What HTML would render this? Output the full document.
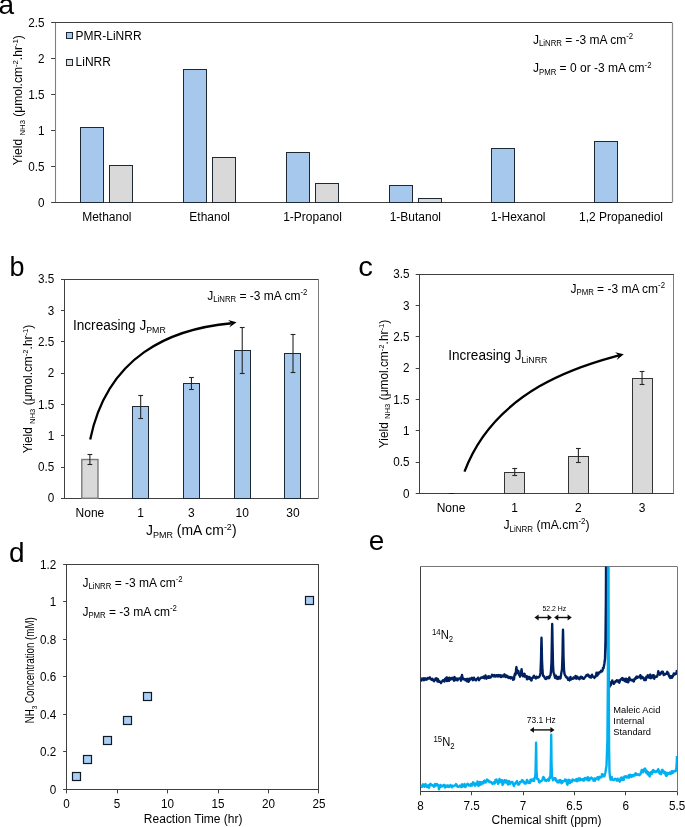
<!DOCTYPE html>
<html><head><meta charset="utf-8"><style>
html,body{margin:0;padding:0;background:#fff;overflow:hidden;}
svg{display:block;}
text{font-family:"Liberation Sans", sans-serif;}
svg{will-change:transform;}
</style></head><body>
<svg width="685" height="827" viewBox="0 0 685 827">
<rect width="685" height="827" fill="#fff"/>
<text transform="translate(-1.50,14.30) scale(1,1.0)" font-size="28" text-anchor="start" fill="#000">a</text>
<line x1="55.50" y1="22.50" x2="55.50" y2="202.40" stroke="#7f7f7f" stroke-width="1.1"/>
<line x1="672.50" y1="22.50" x2="672.50" y2="202.40" stroke="#8a8a8a" stroke-width="1.2"/>
<line x1="51.10" y1="22.50" x2="672.10" y2="22.50" stroke="#404040" stroke-width="1"/>
<line x1="51.10" y1="202.50" x2="672.10" y2="202.50" stroke="#404040" stroke-width="1"/>
<line x1="51.10" y1="166.50" x2="55.10" y2="166.50" stroke="#404040" stroke-width="1"/>
<line x1="51.10" y1="130.50" x2="55.10" y2="130.50" stroke="#404040" stroke-width="1"/>
<line x1="51.10" y1="94.50" x2="55.10" y2="94.50" stroke="#404040" stroke-width="1"/>
<line x1="51.10" y1="58.50" x2="55.10" y2="58.50" stroke="#404040" stroke-width="1"/>
<text transform="translate(44.60,206.50) scale(1,1.08)" font-size="11.7" text-anchor="end" fill="#000">0</text>
<text transform="translate(44.60,170.52) scale(1,1.08)" font-size="11.7" text-anchor="end" fill="#000">0.5</text>
<text transform="translate(44.60,134.54) scale(1,1.08)" font-size="11.7" text-anchor="end" fill="#000">1</text>
<text transform="translate(44.60,98.56) scale(1,1.08)" font-size="11.7" text-anchor="end" fill="#000">1.5</text>
<text transform="translate(44.60,62.58) scale(1,1.08)" font-size="11.7" text-anchor="end" fill="#000">2</text>
<text transform="translate(44.60,26.60) scale(1,1.08)" font-size="11.7" text-anchor="end" fill="#000">2.5</text>
<rect x="80.50" y="127.50" width="23.00" height="75.00" fill="#a6c8ec" stroke="#1e2832" stroke-width="1"/>
<rect x="109.50" y="165.50" width="23.00" height="37.00" fill="#d9d9d9" stroke="#1e2832" stroke-width="1"/>
<text transform="translate(106.82,220.90) scale(1,1.06)" font-size="12.0" text-anchor="middle" fill="#000">Methanol</text>
<rect x="183.50" y="69.50" width="23.00" height="133.00" fill="#a6c8ec" stroke="#1e2832" stroke-width="1"/>
<rect x="212.50" y="157.50" width="23.00" height="45.00" fill="#d9d9d9" stroke="#1e2832" stroke-width="1"/>
<text transform="translate(209.65,220.90) scale(1,1.06)" font-size="12.0" text-anchor="middle" fill="#000">Ethanol</text>
<rect x="286.50" y="152.50" width="23.00" height="50.00" fill="#a6c8ec" stroke="#1e2832" stroke-width="1"/>
<rect x="315.50" y="183.50" width="23.00" height="19.00" fill="#d9d9d9" stroke="#1e2832" stroke-width="1"/>
<text transform="translate(312.48,220.90) scale(1,1.06)" font-size="12.0" text-anchor="middle" fill="#000">1-Propanol</text>
<rect x="389.50" y="185.50" width="23.00" height="17.00" fill="#a6c8ec" stroke="#1e2832" stroke-width="1"/>
<rect x="418.50" y="198.50" width="23.00" height="4.00" fill="#d9d9d9" stroke="#1e2832" stroke-width="1"/>
<text transform="translate(415.32,220.90) scale(1,1.06)" font-size="12.0" text-anchor="middle" fill="#000">1-Butanol</text>
<rect x="491.50" y="148.50" width="23.00" height="54.00" fill="#a6c8ec" stroke="#1e2832" stroke-width="1"/>
<text transform="translate(518.15,220.90) scale(1,1.06)" font-size="12.0" text-anchor="middle" fill="#000">1-Hexanol</text>
<rect x="594.50" y="141.50" width="23.00" height="61.00" fill="#a6c8ec" stroke="#1e2832" stroke-width="1"/>
<text transform="translate(620.98,220.90) scale(1,1.06)" font-size="12.0" text-anchor="middle" fill="#000">1,2 Propanediol</text>
<rect x="66.50" y="32.50" width="6.00" height="6.00" fill="#a6c8ec" stroke="#1e2832" stroke-width="1"/>
<rect x="66.50" y="59.50" width="6.00" height="6.00" fill="#dcdcdc" stroke="#1e2832" stroke-width="1"/>
<text transform="translate(75.60,39.60) scale(1,1.06)" font-size="12.0" text-anchor="start" fill="#000">PMR-LiNRR</text>
<text transform="translate(75.60,66.40) scale(1,1.06)" font-size="12.0" text-anchor="start" fill="#000">LiNRR</text>
<text transform="translate(533.00,43.70) scale(1,1.06)" font-size="12.0" text-anchor="start" fill="#000">J<tspan font-size="7.8" dy="2.4">LiNRR</tspan><tspan dy="-2.4"> = -3 mA cm</tspan><tspan font-size="7.8" dy="-4.32">-2</tspan></text>
<text transform="translate(533.00,72.40) scale(1,1.06)" font-size="12.0" text-anchor="start" fill="#000">J<tspan font-size="7.8" dy="2.4">PMR</tspan><tspan dy="-2.4"> = 0 or -3 mA cm</tspan><tspan font-size="7.8" dy="-4.32">-2</tspan></text>
<text transform="translate(22.20,100.20) rotate(-90) scale(1,1.05)" font-size="11.8" text-anchor="middle" textLength="130" lengthAdjust="spacingAndGlyphs">Yield <tspan font-size="7.6" dy="2.36">NH3</tspan><tspan dy="-2.36"> (μmol.cm</tspan><tspan font-size="7.6" dy="-4.01">-2</tspan><tspan dy="4.01">.hr</tspan><tspan font-size="7.6" dy="-4.01">-1</tspan><tspan dy="4.01">)</tspan></text>
<text transform="translate(9.50,276.30) scale(1,1.0)" font-size="27" text-anchor="start" fill="#000">b</text>
<line x1="64.50" y1="279.30" x2="64.50" y2="498.30" stroke="#404040" stroke-width="1"/>
<line x1="318.50" y1="279.30" x2="318.50" y2="498.30" stroke="#7a7a7a" stroke-width="1"/>
<line x1="61.00" y1="279.50" x2="318.40" y2="279.50" stroke="#404040" stroke-width="1"/>
<line x1="61.00" y1="498.50" x2="318.40" y2="498.50" stroke="#404040" stroke-width="1"/>
<line x1="61.00" y1="467.50" x2="64.50" y2="467.50" stroke="#404040" stroke-width="1"/>
<line x1="61.00" y1="435.50" x2="64.50" y2="435.50" stroke="#404040" stroke-width="1"/>
<line x1="61.00" y1="404.50" x2="64.50" y2="404.50" stroke="#404040" stroke-width="1"/>
<line x1="61.00" y1="373.50" x2="64.50" y2="373.50" stroke="#404040" stroke-width="1"/>
<line x1="61.00" y1="341.50" x2="64.50" y2="341.50" stroke="#404040" stroke-width="1"/>
<line x1="61.00" y1="310.50" x2="64.50" y2="310.50" stroke="#404040" stroke-width="1"/>
<text transform="translate(54.30,502.40) scale(1,1.08)" font-size="11.7" text-anchor="end" fill="#000">0</text>
<text transform="translate(54.30,471.11) scale(1,1.08)" font-size="11.7" text-anchor="end" fill="#000">0.5</text>
<text transform="translate(54.30,439.83) scale(1,1.08)" font-size="11.7" text-anchor="end" fill="#000">1</text>
<text transform="translate(54.30,408.54) scale(1,1.08)" font-size="11.7" text-anchor="end" fill="#000">1.5</text>
<text transform="translate(54.30,377.26) scale(1,1.08)" font-size="11.7" text-anchor="end" fill="#000">2</text>
<text transform="translate(54.30,345.97) scale(1,1.08)" font-size="11.7" text-anchor="end" fill="#000">2.5</text>
<text transform="translate(54.30,314.69) scale(1,1.08)" font-size="11.7" text-anchor="end" fill="#000">3</text>
<text transform="translate(54.30,283.40) scale(1,1.08)" font-size="11.7" text-anchor="end" fill="#000">3.5</text>
<rect x="81.79" y="459.51" width="16.20" height="38.79" fill="#d9d9d9" stroke="#7a7a7a" stroke-width="1.4"/>
<line x1="89.89" y1="454.12" x2="89.89" y2="464.32" stroke="#262626" stroke-width="1.1"/>
<line x1="87.49" y1="454.50" x2="92.29" y2="454.50" stroke="#262626" stroke-width="1.1"/>
<line x1="87.49" y1="464.50" x2="92.29" y2="464.50" stroke="#262626" stroke-width="1.1"/>
<text transform="translate(89.89,516.60) scale(1,1.06)" font-size="12.0" text-anchor="middle" fill="#000">None</text>
<rect x="132.50" y="406.50" width="16.00" height="92.00" fill="#a6c8ec" stroke="#1e2832" stroke-width="1"/>
<line x1="140.67" y1="395.06" x2="140.67" y2="418.33" stroke="#262626" stroke-width="1.1"/>
<line x1="138.27" y1="395.50" x2="143.07" y2="395.50" stroke="#262626" stroke-width="1.1"/>
<line x1="138.27" y1="418.50" x2="143.07" y2="418.50" stroke="#262626" stroke-width="1.1"/>
<text transform="translate(140.67,516.60) scale(1,1.06)" font-size="12.0" text-anchor="middle" fill="#000">1</text>
<rect x="183.50" y="383.50" width="16.00" height="115.00" fill="#a6c8ec" stroke="#1e2832" stroke-width="1"/>
<line x1="191.45" y1="377.16" x2="191.45" y2="389.43" stroke="#262626" stroke-width="1.1"/>
<line x1="189.05" y1="377.50" x2="193.85" y2="377.50" stroke="#262626" stroke-width="1.1"/>
<line x1="189.05" y1="389.50" x2="193.85" y2="389.50" stroke="#262626" stroke-width="1.1"/>
<text transform="translate(191.45,516.60) scale(1,1.06)" font-size="12.0" text-anchor="middle" fill="#000">3</text>
<rect x="234.50" y="350.50" width="16.00" height="148.00" fill="#a6c8ec" stroke="#1e2832" stroke-width="1"/>
<line x1="242.23" y1="327.10" x2="242.23" y2="373.16" stroke="#262626" stroke-width="1.1"/>
<line x1="239.83" y1="327.50" x2="244.63" y2="327.50" stroke="#262626" stroke-width="1.1"/>
<line x1="239.83" y1="373.50" x2="244.63" y2="373.50" stroke="#262626" stroke-width="1.1"/>
<text transform="translate(242.23,516.60) scale(1,1.06)" font-size="12.0" text-anchor="middle" fill="#000">10</text>
<rect x="284.50" y="353.50" width="16.00" height="145.00" fill="#a6c8ec" stroke="#1e2832" stroke-width="1"/>
<line x1="293.01" y1="334.99" x2="293.01" y2="372.16" stroke="#262626" stroke-width="1.1"/>
<line x1="290.61" y1="334.50" x2="295.41" y2="334.50" stroke="#262626" stroke-width="1.1"/>
<line x1="290.61" y1="372.50" x2="295.41" y2="372.50" stroke="#262626" stroke-width="1.1"/>
<text transform="translate(293.01,516.60) scale(1,1.06)" font-size="12.0" text-anchor="middle" fill="#000">30</text>
<text transform="translate(207.20,299.70) scale(1,1.06)" font-size="12.0" text-anchor="start" fill="#000">J<tspan font-size="7.8" dy="2.4">LiNRR</tspan><tspan dy="-2.4"> = -3 mA cm</tspan><tspan font-size="7.8" dy="-4.32">-2</tspan></text>
<text transform="translate(73.00,329.90) scale(1,1.04)" font-size="13.6" text-anchor="start" fill="#000">Increasing J<tspan font-size="8.8" dy="3.2">PMR</tspan></text>
<text transform="translate(146.00,534.70) scale(1,1.04)" font-size="13.9" text-anchor="start" fill="#000">J<tspan font-size="9.0" dy="3.2">PMR</tspan><tspan dy="-3.2"> (mA cm</tspan><tspan font-size="9.0" dy="-5">-2</tspan><tspan dy="5">)</tspan></text>
<text transform="translate(32.40,389.00) rotate(-90) scale(1,1.05)" font-size="11.8" text-anchor="middle" textLength="128.5" lengthAdjust="spacingAndGlyphs">Yield <tspan font-size="7.6" dy="2.36">NH3</tspan><tspan dy="-2.36"> (μmol.cm</tspan><tspan font-size="7.6" dy="-4.01">-2</tspan><tspan dy="4.01">.hr</tspan><tspan font-size="7.6" dy="-4.01">-1</tspan><tspan dy="4.01">)</tspan></text>
<path d="M236.60,322.30 L228.10,320.00 L231.67,323.23 L229.20,327.60 Z" fill="#000"/>
<path d="M90.2,439.5 C107.3,355.9 170,328.8 231.67,323.23" fill="none" stroke="#000" stroke-width="2.3"/>
<text transform="translate(358.2,275.8) scale(1.09,1.02)" font-size="27">c</text>
<line x1="419.50" y1="274.30" x2="419.50" y2="493.40" stroke="#404040" stroke-width="1"/>
<line x1="673.50" y1="274.30" x2="673.50" y2="493.40" stroke="#7a7a7a" stroke-width="1"/>
<line x1="415.70" y1="274.50" x2="673.90" y2="274.50" stroke="#404040" stroke-width="1"/>
<line x1="415.70" y1="493.50" x2="673.90" y2="493.50" stroke="#404040" stroke-width="1"/>
<line x1="415.70" y1="462.50" x2="419.20" y2="462.50" stroke="#404040" stroke-width="1"/>
<line x1="415.70" y1="430.50" x2="419.20" y2="430.50" stroke="#404040" stroke-width="1"/>
<line x1="415.70" y1="399.50" x2="419.20" y2="399.50" stroke="#404040" stroke-width="1"/>
<line x1="415.70" y1="368.50" x2="419.20" y2="368.50" stroke="#404040" stroke-width="1"/>
<line x1="415.70" y1="336.50" x2="419.20" y2="336.50" stroke="#404040" stroke-width="1"/>
<line x1="415.70" y1="305.50" x2="419.20" y2="305.50" stroke="#404040" stroke-width="1"/>
<text transform="translate(409.40,497.50) scale(1,1.08)" font-size="11.7" text-anchor="end" fill="#000">0</text>
<text transform="translate(409.40,466.20) scale(1,1.08)" font-size="11.7" text-anchor="end" fill="#000">0.5</text>
<text transform="translate(409.40,434.90) scale(1,1.08)" font-size="11.7" text-anchor="end" fill="#000">1</text>
<text transform="translate(409.40,403.60) scale(1,1.08)" font-size="11.7" text-anchor="end" fill="#000">1.5</text>
<text transform="translate(409.40,372.30) scale(1,1.08)" font-size="11.7" text-anchor="end" fill="#000">2</text>
<text transform="translate(409.40,341.00) scale(1,1.08)" font-size="11.7" text-anchor="end" fill="#000">2.5</text>
<text transform="translate(409.40,309.70) scale(1,1.08)" font-size="11.7" text-anchor="end" fill="#000">3</text>
<text transform="translate(409.40,278.40) scale(1,1.08)" font-size="11.7" text-anchor="end" fill="#000">3.5</text>
<text transform="translate(451.04,511.90) scale(1,1.06)" font-size="12.0" text-anchor="middle" fill="#000">None</text>
<rect x="504.50" y="472.50" width="20.00" height="21.00" fill="#d9d9d9" stroke="#333" stroke-width="1"/>
<line x1="514.71" y1="468.36" x2="514.71" y2="475.25" stroke="#262626" stroke-width="1.1"/>
<line x1="512.31" y1="468.50" x2="517.11" y2="468.50" stroke="#262626" stroke-width="1.1"/>
<line x1="512.31" y1="475.50" x2="517.11" y2="475.50" stroke="#262626" stroke-width="1.1"/>
<text transform="translate(514.71,511.90) scale(1,1.06)" font-size="12.0" text-anchor="middle" fill="#000">1</text>
<rect x="568.50" y="456.50" width="20.00" height="37.00" fill="#d9d9d9" stroke="#333" stroke-width="1"/>
<line x1="578.39" y1="448.95" x2="578.39" y2="462.73" stroke="#262626" stroke-width="1.1"/>
<line x1="575.99" y1="448.50" x2="580.79" y2="448.50" stroke="#262626" stroke-width="1.1"/>
<line x1="575.99" y1="462.50" x2="580.79" y2="462.50" stroke="#262626" stroke-width="1.1"/>
<text transform="translate(578.39,511.90) scale(1,1.06)" font-size="12.0" text-anchor="middle" fill="#000">2</text>
<rect x="632.50" y="378.50" width="20.00" height="115.00" fill="#d9d9d9" stroke="#333" stroke-width="1"/>
<line x1="642.06" y1="371.96" x2="642.06" y2="384.48" stroke="#262626" stroke-width="1.1"/>
<line x1="639.66" y1="371.50" x2="644.46" y2="371.50" stroke="#262626" stroke-width="1.1"/>
<line x1="639.66" y1="384.50" x2="644.46" y2="384.50" stroke="#262626" stroke-width="1.1"/>
<text transform="translate(642.06,511.90) scale(1,1.06)" font-size="12.0" text-anchor="middle" fill="#000">3</text>
<line x1="448.80" y1="493.50" x2="453.90" y2="493.50" stroke="#1a1a1a" stroke-width="1"/>
<text transform="translate(570.50,292.60) scale(1,1.06)" font-size="12.0" text-anchor="start" fill="#000">J<tspan font-size="7.8" dy="2.4">PMR</tspan><tspan dy="-2.4"> = -3 mA cm</tspan><tspan font-size="7.8" dy="-4.32">-2</tspan></text>
<text transform="translate(448.20,359.90) scale(1,1.04)" font-size="13.6" text-anchor="start" fill="#000">Increasing J<tspan font-size="8.8" dy="3.2">LiNRR</tspan></text>
<text transform="translate(503.40,528.60) scale(1,1.06)" font-size="12.2" text-anchor="start" fill="#000">J<tspan font-size="8.0" dy="3.0">LiNRR</tspan><tspan dy="-3"> (mA.cm</tspan><tspan font-size="8.0" dy="-4.5">-2</tspan><tspan dy="4.5">)</tspan></text>
<text transform="translate(387.80,384.00) rotate(-90) scale(1,1.05)" font-size="11.8" text-anchor="middle" textLength="128.5" lengthAdjust="spacingAndGlyphs">Yield <tspan font-size="7.6" dy="2.36">NH3</tspan><tspan dy="-2.36"> (μmol.cm</tspan><tspan font-size="7.6" dy="-4.01">-2</tspan><tspan dy="4.01">.hr</tspan><tspan font-size="7.6" dy="-4.01">-1</tspan><tspan dy="4.01">)</tspan></text>
<path d="M623.80,354.30 L615.10,352.20 L618.90,355.38 L616.70,359.90 Z" fill="#000"/>
<path d="M464.5,471.6 C496.96,384.8 592.9,362.7 618.90,355.38" fill="none" stroke="#000" stroke-width="2.3"/>
<text transform="translate(9.00,561.80) scale(1,1.0)" font-size="28" text-anchor="start" fill="#000">d</text>
<line x1="66.50" y1="564.40" x2="66.50" y2="789.40" stroke="#404040" stroke-width="1"/>
<line x1="318.50" y1="564.40" x2="318.50" y2="789.40" stroke="#404040" stroke-width="1"/>
<line x1="63.10" y1="564.50" x2="319.00" y2="564.50" stroke="#404040" stroke-width="1"/>
<line x1="63.10" y1="789.50" x2="319.00" y2="789.50" stroke="#404040" stroke-width="1"/>
<line x1="63.10" y1="751.50" x2="66.60" y2="751.50" stroke="#404040" stroke-width="1"/>
<line x1="63.10" y1="714.50" x2="66.60" y2="714.50" stroke="#404040" stroke-width="1"/>
<line x1="63.10" y1="676.50" x2="66.60" y2="676.50" stroke="#404040" stroke-width="1"/>
<line x1="63.10" y1="639.50" x2="66.60" y2="639.50" stroke="#404040" stroke-width="1"/>
<line x1="63.10" y1="601.50" x2="66.60" y2="601.50" stroke="#404040" stroke-width="1"/>
<line x1="66.50" y1="789.40" x2="66.50" y2="793.40" stroke="#404040" stroke-width="1"/>
<line x1="117.50" y1="789.40" x2="117.50" y2="793.40" stroke="#404040" stroke-width="1"/>
<line x1="167.50" y1="789.40" x2="167.50" y2="793.40" stroke="#404040" stroke-width="1"/>
<line x1="218.50" y1="789.40" x2="218.50" y2="793.40" stroke="#404040" stroke-width="1"/>
<line x1="268.50" y1="789.40" x2="268.50" y2="793.40" stroke="#404040" stroke-width="1"/>
<line x1="318.50" y1="789.40" x2="318.50" y2="793.40" stroke="#404040" stroke-width="1"/>
<text transform="translate(56.20,793.50) scale(1,1.08)" font-size="11.7" text-anchor="end" fill="#000">0</text>
<text transform="translate(56.20,756.00) scale(1,1.08)" font-size="11.7" text-anchor="end" fill="#000">0.2</text>
<text transform="translate(56.20,718.50) scale(1,1.08)" font-size="11.7" text-anchor="end" fill="#000">0.4</text>
<text transform="translate(56.20,681.00) scale(1,1.08)" font-size="11.7" text-anchor="end" fill="#000">0.6</text>
<text transform="translate(56.20,643.50) scale(1,1.08)" font-size="11.7" text-anchor="end" fill="#000">0.8</text>
<text transform="translate(56.20,606.00) scale(1,1.08)" font-size="11.7" text-anchor="end" fill="#000">1</text>
<text transform="translate(56.20,568.50) scale(1,1.08)" font-size="11.7" text-anchor="end" fill="#000">1.2</text>
<text transform="translate(66.60,807.80) scale(1,1.08)" font-size="11.7" text-anchor="middle" fill="#000">0</text>
<text transform="translate(117.08,807.80) scale(1,1.08)" font-size="11.7" text-anchor="middle" fill="#000">5</text>
<text transform="translate(167.56,807.80) scale(1,1.08)" font-size="11.7" text-anchor="middle" fill="#000">10</text>
<text transform="translate(218.04,807.80) scale(1,1.08)" font-size="11.7" text-anchor="middle" fill="#000">15</text>
<text transform="translate(268.52,807.80) scale(1,1.08)" font-size="11.7" text-anchor="middle" fill="#000">20</text>
<text transform="translate(319.00,807.80) scale(1,1.08)" font-size="11.7" text-anchor="middle" fill="#000">25</text>
<rect x="72.50" y="772.50" width="8.00" height="8.00" fill="#a9cff5" stroke="#111a24" stroke-width="1.2"/>
<rect x="83.50" y="755.50" width="8.00" height="8.00" fill="#a9cff5" stroke="#111a24" stroke-width="1.2"/>
<rect x="103.50" y="736.50" width="8.00" height="8.00" fill="#a9cff5" stroke="#111a24" stroke-width="1.2"/>
<rect x="123.50" y="716.50" width="8.00" height="8.00" fill="#a9cff5" stroke="#111a24" stroke-width="1.2"/>
<rect x="143.50" y="692.50" width="8.00" height="8.00" fill="#a9cff5" stroke="#111a24" stroke-width="1.2"/>
<rect x="305.50" y="596.50" width="8.00" height="8.00" fill="#a9cff5" stroke="#111a24" stroke-width="1.2"/>
<text transform="translate(82.40,586.80) scale(1,1.06)" font-size="12.0" text-anchor="start" fill="#000">J<tspan font-size="7.8" dy="2.4">LiNRR</tspan><tspan dy="-2.4"> = -3 mA cm</tspan><tspan font-size="7.8" dy="-4.32">-2</tspan></text>
<text transform="translate(82.40,615.60) scale(1,1.06)" font-size="12.0" text-anchor="start" fill="#000">J<tspan font-size="7.8" dy="2.4">PMR</tspan><tspan dy="-2.4"> = -3 mA cm</tspan><tspan font-size="7.8" dy="-4.32">-2</tspan></text>
<text transform="translate(193.20,823.40) scale(1,1.06)" font-size="12.0" text-anchor="middle" fill="#000">Reaction Time (hr)</text>
<text transform="translate(34.30,670.30) rotate(-90) scale(1,1.13)" font-size="10.6" text-anchor="middle" textLength="106" lengthAdjust="spacingAndGlyphs">NH<tspan font-size="7" dy="2.5">3</tspan><tspan dy="-2.5"> Concentration (mM)</tspan></text>
<text transform="translate(368.80,550.00) scale(1,1.01)" font-size="28" text-anchor="start" fill="#000">e</text>
<line x1="420.50" y1="566.50" x2="420.50" y2="791.30" stroke="#404040" stroke-width="1"/>
<line x1="420.40" y1="566.50" x2="677.10" y2="566.50" stroke="#777" stroke-width="1"/>
<line x1="420.40" y1="791.50" x2="677.10" y2="791.50" stroke="#404040" stroke-width="1"/>
<line x1="420.50" y1="791.30" x2="420.50" y2="795.30" stroke="#404040" stroke-width="1"/>
<line x1="471.50" y1="791.30" x2="471.50" y2="795.30" stroke="#404040" stroke-width="1"/>
<line x1="523.50" y1="791.30" x2="523.50" y2="795.30" stroke="#404040" stroke-width="1"/>
<line x1="574.50" y1="791.30" x2="574.50" y2="795.30" stroke="#404040" stroke-width="1"/>
<line x1="625.50" y1="791.30" x2="625.50" y2="795.30" stroke="#404040" stroke-width="1"/>
<line x1="677.50" y1="791.30" x2="677.50" y2="795.30" stroke="#404040" stroke-width="1"/>
<text transform="translate(420.40,809.90) scale(1,1.08)" font-size="11.7" text-anchor="middle" fill="#000">8</text>
<text transform="translate(471.74,809.90) scale(1,1.08)" font-size="11.7" text-anchor="middle" fill="#000">7.5</text>
<text transform="translate(523.08,809.90) scale(1,1.08)" font-size="11.7" text-anchor="middle" fill="#000">7</text>
<text transform="translate(574.42,809.90) scale(1,1.08)" font-size="11.7" text-anchor="middle" fill="#000">6.5</text>
<text transform="translate(625.76,809.90) scale(1,1.08)" font-size="11.7" text-anchor="middle" fill="#000">6</text>
<text transform="translate(677.10,809.90) scale(1,1.08)" font-size="11.7" text-anchor="middle" fill="#000">5.5</text>
<text transform="translate(546.50,823.50) scale(1,1.06)" font-size="12.0" text-anchor="middle" fill="#000">Chemical shift (ppm)</text>
<clipPath id="clipE"><rect x="420.4" y="566.5" width="256.70000000000005" height="230.79999999999995"/></clipPath>
<path d="M421.00,679.57 L421.50,680.58 L422.00,678.55 L422.50,679.76 L423.00,678.73 L423.50,678.29 L424.00,680.20 L424.50,678.89 L425.00,678.17 L425.50,678.95 L426.00,679.71 L426.50,678.89 L427.00,679.38 L427.50,678.08 L428.00,678.42 L428.50,678.57 L429.00,677.83 L429.50,677.55 L430.00,677.46 L430.50,678.88 L431.00,679.44 L431.50,679.52 L432.00,680.00 L432.50,678.79 L433.00,679.76 L433.50,680.44 L434.00,681.22 L434.50,679.92 L435.00,680.04 L435.50,678.51 L436.00,679.64 L436.50,678.34 L437.00,678.80 L437.50,681.54 L438.00,679.09 L438.50,681.45 L439.00,681.74 L439.50,681.25 L440.00,681.94 L440.50,682.28 L441.00,682.97 L441.50,681.95 L442.00,681.34 L442.50,680.90 L443.00,680.22 L443.50,680.81 L444.00,680.08 L444.50,681.57 L445.00,678.90 L445.50,678.73 L446.00,678.66 L446.50,677.45 L447.00,681.03 L447.50,677.69 L448.00,678.75 L448.50,678.75 L449.00,680.87 L449.50,677.76 L450.00,679.84 L450.50,678.57 L451.00,678.69 L451.50,678.13 L452.00,679.21 L452.50,677.77 L453.00,678.41 L453.50,679.04 L454.00,680.72 L454.50,676.95 L455.00,679.78 L455.50,680.05 L456.00,678.68 L456.50,679.07 L457.00,678.41 L457.50,680.34 L458.00,679.47 L458.50,678.78 L459.00,678.56 L459.50,678.52 L460.00,678.54 L460.50,677.88 L461.00,680.67 L461.50,677.54 L462.00,674.92 L462.50,677.68 L463.00,678.51 L463.50,679.32 L464.00,679.01 L464.50,679.01 L465.00,679.52 L465.50,680.35 L466.00,679.20 L466.50,678.96 L467.00,681.25 L467.50,680.55 L468.00,678.85 L468.50,681.70 L469.00,681.03 L469.50,679.48 L470.00,678.46 L470.50,679.57 L471.00,678.72 L471.50,678.20 L472.00,677.76 L472.50,678.39 L473.00,680.16 L473.50,679.10 L474.00,677.72 L474.50,679.40 L475.00,679.26 L475.50,679.96 L476.00,680.49 L476.50,679.23 L477.00,678.84 L477.50,678.78 L478.00,677.63 L478.50,679.07 L479.00,680.19 L479.50,679.28 L480.00,678.57 L480.50,678.30 L481.00,677.66 L481.50,677.42 L482.00,677.72 L482.50,677.34 L483.00,677.60 L483.50,676.50 L484.00,678.08 L484.50,678.22 L485.00,677.02 L485.50,675.39 L486.00,677.11 L486.50,678.65 L487.00,677.17 L487.50,676.88 L488.00,676.61 L488.50,677.67 L489.00,676.31 L489.50,677.73 L490.00,676.76 L490.50,677.61 L491.00,676.87 L491.50,676.29 L492.00,674.76 L492.50,675.00 L493.00,675.41 L493.50,676.37 L494.00,676.14 L494.50,675.03 L495.00,675.72 L495.50,676.60 L496.00,675.75 L496.50,675.24 L497.00,675.16 L497.50,676.39 L498.00,676.52 L498.50,675.11 L499.00,676.04 L499.50,675.49 L500.00,675.08 L500.50,676.95 L501.00,677.09 L501.50,675.57 L502.00,675.93 L502.50,676.46 L503.00,675.46 L503.50,675.69 L504.00,676.55 L504.50,674.33 L505.00,675.79 L505.50,676.84 L506.00,677.06 L506.50,675.40 L507.00,676.71 L507.50,676.05 L508.00,677.43 L508.50,678.02 L509.00,677.94 L509.50,677.05 L510.00,677.10 L510.50,678.44 L511.00,677.03 L511.50,677.96 L512.00,678.19 L512.50,677.40 L513.00,679.77 L513.50,678.03 L514.00,679.44 L514.50,675.41 L515.00,673.46 L515.50,674.82 L516.00,671.08 L516.05,669.68 L516.30,667.78 L516.50,667.05 L516.55,668.30 L517.00,671.82 L517.50,673.07 L517.95,672.13 L518.00,671.36 L518.20,670.81 L518.45,671.05 L518.50,671.40 L519.00,674.66 L519.50,675.20 L520.00,676.70 L520.50,674.39 L521.00,674.83 L521.30,670.53 L521.50,670.71 L521.60,669.09 L521.90,672.50 L522.00,672.33 L522.50,675.00 L523.00,676.38 L523.50,675.51 L524.00,674.90 L524.50,673.75 L525.00,676.69 L525.50,675.93 L526.00,676.01 L526.50,676.78 L527.00,679.24 L527.50,676.41 L528.00,677.74 L528.50,677.66 L529.00,678.75 L529.50,676.91 L530.00,677.94 L530.50,679.27 L531.00,680.29 L531.50,680.52 L532.00,678.01 L532.50,678.06 L533.00,677.80 L533.50,676.33 L534.00,675.70 L534.50,677.61 L535.00,677.54 L535.50,677.22 L536.00,678.50 L536.50,676.66 L537.00,677.63 L537.50,677.37 L538.00,677.15 L538.50,677.49 L539.00,677.02 L539.50,676.44 L540.00,675.13 L540.50,672.67 L541.00,660.12 L541.27,645.92 L541.50,637.66 L541.73,645.76 L542.00,660.32 L542.50,670.96 L543.00,675.85 L543.50,675.76 L544.00,676.32 L544.50,677.49 L545.00,678.47 L545.50,678.92 L546.00,679.09 L546.50,678.05 L547.00,676.99 L547.50,678.16 L548.00,678.21 L548.50,676.85 L549.00,678.21 L549.50,677.53 L550.00,675.59 L550.50,675.22 L551.00,670.83 L551.50,662.02 L551.98,634.93 L552.00,632.80 L552.20,624.01 L552.43,634.67 L552.50,640.82 L553.00,665.01 L553.50,672.58 L554.00,673.66 L554.50,675.53 L555.00,677.64 L555.50,677.93 L556.00,675.79 L556.50,677.99 L557.00,678.63 L557.50,677.53 L558.00,678.98 L558.50,676.86 L559.00,677.11 L559.50,678.25 L560.00,678.57 L560.50,678.22 L561.00,675.01 L561.50,671.91 L562.00,669.57 L562.50,655.74 L562.77,639.20 L563.00,629.66 L563.23,639.33 L563.50,656.46 L564.00,670.03 L564.50,673.79 L565.00,675.23 L565.50,675.80 L566.00,676.98 L566.50,677.44 L567.00,678.00 L567.50,677.45 L568.00,679.79 L568.50,679.01 L569.00,680.04 L569.50,680.41 L570.00,678.42 L570.50,676.94 L571.00,679.45 L571.50,678.53 L572.00,678.71 L572.50,678.40 L573.00,678.68 L573.50,677.42 L574.00,678.11 L574.50,677.93 L575.00,678.31 L575.50,676.02 L576.00,678.46 L576.50,678.64 L577.00,676.57 L577.50,676.90 L578.00,677.71 L578.50,678.51 L579.00,678.06 L579.50,679.26 L580.00,678.20 L580.50,676.83 L581.00,676.71 L581.50,678.07 L582.00,677.08 L582.50,678.21 L583.00,678.70 L583.50,678.37 L584.00,678.68 L584.50,677.53 L585.00,677.32 L585.50,676.56 L586.00,676.22 L586.50,675.06 L587.00,675.64 L587.50,675.21 L588.00,674.63 L588.50,675.95 L589.00,676.57 L589.50,675.86 L590.00,677.28 L590.50,677.37 L591.00,677.53 L591.50,675.95 L592.00,674.62 L592.50,676.32 L593.00,676.62 L593.50,677.16 L594.00,677.05 L594.50,677.90 L595.00,676.63 L595.50,676.78 L596.00,674.96 L596.50,672.70 L597.00,673.61 L597.50,675.55 L598.00,672.64 L598.50,674.23 L599.00,672.74 L599.50,672.31 L600.00,672.36 L600.50,672.29 L601.00,670.81 L601.50,671.21 L602.00,671.39 L602.50,670.62 L603.00,667.85 L603.50,668.41 L604.30,664.00 L605.00,659.00 L605.50,640.00 L605.90,600.00 L606.10,555.00 L606.50,555.00 L607.00,600.00 L607.60,640.00 L608.30,665.00 L608.90,682.00 L609.40,687.00 L609.80,685.31 L610.30,684.19 L610.80,685.13 L611.30,681.87 L611.80,682.50 L612.30,680.38 L612.80,683.09 L613.30,682.88 L613.80,683.86 L614.30,682.16 L614.80,682.45 L615.30,681.73 L615.80,680.95 L616.30,681.49 L616.80,680.13 L617.30,680.52 L617.80,681.58 L618.30,681.15 L618.80,680.43 L619.30,682.73 L619.80,681.15 L620.30,679.78 L620.80,679.81 L621.30,678.85 L621.80,678.42 L622.30,678.04 L622.80,680.05 L623.30,678.72 L623.80,678.71 L624.30,679.37 L624.80,681.08 L625.30,679.49 L625.80,678.77 L626.30,681.83 L626.80,678.94 L627.30,679.22 L627.80,680.35 L628.30,682.34 L628.80,679.70 L629.30,677.44 L629.80,679.90 L630.30,679.47 L630.80,679.50 L631.30,680.38 L631.80,680.43 L632.30,680.54 L632.80,679.87 L633.30,681.16 L633.80,681.44 L634.30,679.76 L634.80,678.48 L635.30,679.02 L635.80,678.64 L636.30,676.71 L636.80,676.44 L637.30,677.86 L637.80,677.21 L638.30,676.80 L638.80,677.24 L639.30,677.15 L639.80,677.17 L640.30,675.26 L640.80,678.42 L641.30,677.82 L641.80,676.58 L642.30,678.10 L642.80,677.91 L643.30,677.57 L643.80,678.54 L644.30,680.07 L644.80,678.83 L645.30,679.42 L645.80,680.05 L646.30,676.94 L646.80,676.41 L647.30,677.46 L647.80,675.18 L648.30,675.84 L648.80,677.52 L649.30,677.67 L649.80,677.15 L650.30,674.57 L650.80,678.21 L651.30,677.59 L651.80,677.71 L652.30,677.58 L652.80,675.40 L653.30,675.13 L653.80,675.37 L654.30,678.70 L654.80,677.02 L655.30,676.88 L655.80,676.46 L656.30,676.87 L656.80,676.63 L657.30,676.03 L657.80,674.02 L658.30,671.22 L658.80,673.42 L659.30,673.89 L659.80,674.71 L660.30,673.55 L660.80,672.72 L661.30,673.48 L661.80,671.70 L662.30,671.66 L662.80,671.67 L663.30,672.95 L663.80,675.14 L664.30,674.43 L664.80,674.58 L665.30,673.89 L665.80,673.97 L666.30,673.48 L666.80,673.71 L667.30,671.82 L667.80,672.70 L668.30,673.09 L668.80,675.56 L669.30,676.33 L669.80,677.26 L670.30,677.90 L670.80,676.08 L671.30,676.81 L671.80,677.85 L672.30,676.09 L672.80,676.57 L673.30,675.37 L673.80,673.45 L674.30,674.54 L674.80,673.82 L675.30,674.27 L675.80,673.48 L676.30,673.73 L677.00,670.00" fill="none" stroke="#002060" stroke-width="2.4" stroke-linejoin="round" clip-path="url(#clipE)"/>
<path d="M421.00,784.71 L421.50,785.91 L422.00,786.86 L422.50,785.59 L423.00,784.35 L423.50,785.22 L424.00,786.00 L424.50,786.82 L425.00,784.70 L425.50,783.96 L426.00,785.72 L426.50,785.98 L427.00,787.09 L427.50,786.84 L428.00,785.64 L428.50,785.07 L429.00,787.73 L429.50,785.62 L430.00,784.45 L430.50,783.80 L431.00,784.88 L431.50,785.29 L432.00,784.95 L432.50,785.16 L433.00,785.60 L433.50,786.18 L434.00,786.79 L434.50,786.12 L435.00,783.93 L435.50,785.82 L436.00,784.27 L436.50,785.10 L437.00,784.07 L437.50,785.28 L438.00,784.89 L438.50,785.80 L439.00,789.22 L439.50,786.90 L440.00,787.13 L440.50,784.98 L441.00,785.37 L441.50,786.43 L442.00,785.97 L442.50,786.29 L443.00,786.10 L443.50,784.91 L444.00,786.12 L444.50,785.09 L445.00,787.47 L445.50,785.77 L446.00,786.45 L446.50,785.95 L447.00,786.74 L447.50,785.40 L448.00,786.60 L448.50,785.81 L449.00,786.96 L449.50,786.64 L450.00,786.05 L450.50,784.92 L451.00,786.13 L451.50,786.17 L452.00,787.35 L452.50,785.65 L453.00,786.06 L453.50,786.12 L454.00,785.89 L454.50,785.73 L455.00,785.64 L455.50,784.81 L456.00,784.12 L456.50,784.52 L457.00,785.62 L457.50,786.86 L458.00,786.67 L458.50,786.68 L459.00,786.38 L459.50,786.20 L460.00,785.61 L460.50,785.99 L461.00,787.09 L461.50,785.27 L462.00,784.33 L462.50,786.69 L463.00,785.64 L463.50,786.03 L464.00,786.02 L464.50,783.97 L465.00,786.92 L465.50,787.12 L466.00,785.53 L466.50,785.61 L467.00,784.98 L467.50,783.74 L468.00,784.12 L468.50,784.69 L469.00,785.59 L469.50,785.42 L470.00,784.68 L470.50,785.75 L471.00,783.91 L471.50,784.91 L472.00,785.51 L472.50,784.25 L473.00,782.34 L473.50,782.63 L474.00,783.85 L474.50,784.49 L475.00,785.69 L475.50,783.45 L476.00,783.77 L476.50,784.50 L477.00,783.88 L477.50,781.45 L478.00,783.90 L478.50,785.83 L479.00,784.87 L479.50,782.41 L480.00,781.96 L480.50,782.39 L481.00,784.69 L481.50,783.37 L482.00,782.35 L482.50,783.38 L483.00,781.91 L483.50,783.31 L484.00,781.05 L484.50,780.46 L485.00,781.37 L485.50,782.49 L486.00,782.10 L486.50,781.68 L487.00,779.48 L487.50,779.99 L488.00,780.30 L488.50,780.53 L489.00,781.78 L489.50,781.28 L490.00,782.32 L490.50,782.17 L491.00,781.90 L491.50,782.47 L492.00,783.14 L492.50,783.97 L493.00,783.07 L493.50,783.23 L494.00,782.34 L494.50,783.57 L495.00,782.81 L495.50,779.96 L496.00,779.86 L496.50,779.51 L497.00,781.26 L497.50,781.65 L498.00,783.77 L498.50,782.47 L499.00,781.05 L499.50,778.96 L500.00,782.23 L500.50,782.05 L501.00,780.23 L501.50,781.53 L502.00,780.17 L502.50,784.94 L503.00,784.04 L503.50,783.27 L504.00,782.33 L504.50,780.12 L505.00,781.54 L505.50,780.57 L506.00,782.50 L506.50,780.37 L507.00,781.02 L507.50,783.41 L508.00,784.60 L508.50,782.16 L509.00,781.12 L509.50,783.29 L510.00,783.96 L510.50,782.37 L511.00,782.24 L511.50,782.26 L512.00,781.82 L512.50,782.26 L513.00,784.39 L513.50,784.52 L514.00,785.99 L514.50,784.33 L515.00,783.84 L515.50,782.68 L516.00,783.11 L516.50,781.95 L517.00,781.04 L517.50,783.17 L518.00,784.47 L518.50,784.16 L519.00,784.47 L519.50,783.39 L520.00,781.99 L520.50,782.39 L521.00,782.02 L521.50,781.14 L522.00,780.26 L522.50,780.19 L523.00,781.63 L523.50,782.19 L524.00,781.70 L524.50,783.45 L525.00,782.69 L525.50,782.84 L526.00,783.50 L526.50,781.62 L527.00,779.86 L527.50,782.06 L528.00,781.23 L528.50,782.97 L529.00,782.48 L529.50,782.98 L530.00,782.85 L530.50,779.65 L531.00,781.28 L531.50,780.15 L532.00,779.49 L532.50,779.37 L533.00,780.28 L533.50,780.77 L534.00,780.96 L534.50,778.07 L535.00,777.75 L535.50,773.75 L535.98,750.18 L536.00,747.94 L536.10,742.72 L536.23,750.30 L536.50,770.04 L537.00,778.62 L537.50,779.12 L538.00,779.21 L538.50,779.44 L539.00,782.15 L539.50,782.38 L540.00,781.28 L540.50,781.25 L541.00,781.07 L541.50,780.99 L542.00,780.34 L542.50,779.60 L543.00,777.56 L543.30,776.95 L543.50,778.79 L543.70,778.15 L544.00,778.05 L544.10,777.89 L544.50,779.23 L545.00,780.46 L545.50,779.98 L546.00,780.77 L546.50,781.03 L547.00,780.08 L547.50,779.70 L548.00,779.30 L548.50,778.99 L549.00,780.67 L549.50,777.53 L550.00,778.03 L550.50,775.03 L551.00,752.53 L551.08,743.91 L551.20,734.75 L551.33,743.93 L551.50,761.74 L552.00,776.05 L552.50,778.48 L553.00,780.29 L553.50,779.58 L554.00,778.64 L554.50,778.24 L555.00,778.27 L555.50,778.22 L556.00,780.86 L556.50,781.04 L557.00,780.63 L557.50,782.36 L558.00,780.87 L558.50,781.98 L559.00,782.49 L559.50,780.41 L560.00,779.90 L560.50,780.31 L561.00,782.26 L561.50,783.22 L562.00,780.94 L562.50,782.53 L563.00,781.55 L563.50,781.22 L564.00,780.95 L564.50,781.07 L565.00,779.58 L565.50,779.94 L566.00,779.79 L566.50,781.47 L567.00,783.56 L567.50,784.82 L568.00,782.08 L568.50,779.84 L569.00,780.47 L569.50,780.11 L570.00,782.92 L570.50,782.26 L571.00,780.69 L571.50,781.84 L572.00,781.71 L572.50,779.44 L573.00,779.79 L573.50,780.13 L574.00,780.43 L574.50,780.57 L575.00,780.08 L575.50,780.40 L576.00,779.65 L576.50,779.05 L577.00,781.24 L577.50,780.67 L578.00,780.51 L578.50,778.35 L579.00,779.08 L579.50,780.23 L580.00,778.39 L580.50,780.21 L581.00,779.22 L581.50,779.69 L582.00,779.25 L582.50,779.43 L583.00,780.44 L583.50,779.09 L584.00,780.62 L584.50,778.68 L585.00,777.91 L585.50,779.30 L586.00,777.88 L586.50,778.12 L587.00,779.44 L587.50,780.11 L588.00,777.26 L588.50,778.66 L589.00,780.44 L589.50,780.23 L590.00,778.69 L590.50,778.05 L591.00,778.28 L591.50,777.61 L592.00,778.42 L592.50,778.86 L593.00,779.15 L593.50,780.70 L594.00,779.86 L594.50,778.49 L595.00,780.72 L595.50,778.85 L596.00,778.68 L596.50,778.70 L597.00,778.25 L597.50,777.20 L598.00,777.40 L598.50,779.67 L599.00,777.29 L599.50,776.81 L600.00,777.69 L600.50,777.48 L601.00,777.29 L601.50,777.19 L602.00,774.17 L602.50,774.24 L603.00,775.12 L603.50,775.62 L604.00,776.43 L604.50,775.90 L605.30,773.00 L606.50,766.00 L607.40,740.00 L607.90,680.00 L608.10,555.00 L608.50,555.00 L608.70,680.00 L609.10,750.00 L609.50,772.00 L610.00,777.00 L610.20,777.91 L610.70,779.78 L611.20,778.22 L611.70,776.94 L612.20,778.76 L612.70,779.73 L613.20,779.85 L613.70,780.10 L614.20,779.61 L614.70,779.06 L615.20,778.77 L615.70,779.21 L616.20,779.19 L616.70,780.51 L617.20,780.59 L617.70,778.72 L618.20,780.14 L618.70,779.84 L619.20,780.90 L619.70,781.62 L620.20,780.79 L620.70,777.98 L621.20,779.45 L621.70,777.49 L622.20,779.92 L622.70,778.24 L623.20,778.06 L623.70,779.89 L624.20,776.64 L624.70,777.34 L625.20,776.32 L625.70,776.52 L626.20,776.21 L626.70,777.55 L627.20,776.88 L627.70,777.26 L628.20,777.60 L628.70,775.22 L629.20,777.61 L629.70,776.57 L630.20,774.69 L630.70,774.98 L631.20,776.47 L631.70,776.90 L632.20,775.15 L632.70,775.28 L633.20,775.30 L633.70,775.97 L634.20,774.82 L634.70,775.46 L635.20,773.65 L635.70,773.26 L636.20,774.53 L636.70,774.93 L637.20,774.21 L637.70,774.62 L638.20,774.30 L638.70,774.74 L639.20,775.23 L639.70,774.68 L640.20,774.67 L640.70,773.15 L641.20,772.31 L641.70,769.99 L642.20,771.90 L642.70,771.86 L643.20,772.14 L643.70,769.53 L644.20,769.95 L644.70,769.78 L645.20,768.50 L645.70,771.30 L646.20,772.72 L646.70,770.85 L647.20,772.32 L647.70,774.35 L648.20,772.20 L648.70,774.09 L649.20,775.54 L649.70,776.52 L650.20,773.43 L650.70,772.35 L651.20,773.02 L651.70,773.93 L652.20,771.35 L652.70,770.78 L653.20,770.03 L653.70,772.03 L654.20,770.79 L654.70,771.47 L655.20,771.63 L655.70,772.09 L656.20,771.34 L656.70,770.92 L657.20,771.52 L657.70,770.88 L658.20,769.22 L658.70,770.34 L659.20,772.82 L659.70,773.45 L660.20,772.92 L660.70,772.13 L661.20,774.20 L661.70,770.49 L662.20,769.85 L662.70,770.47 L663.20,770.41 L663.70,772.39 L664.20,773.14 L664.70,773.39 L665.20,772.15 L665.70,774.98 L666.20,775.81 L666.70,775.68 L667.20,772.98 L667.70,774.39 L668.20,773.32 L668.70,773.71 L669.20,773.24 L669.70,772.47 L670.20,773.84 L670.70,773.02 L671.20,773.63 L671.70,771.24 L672.20,771.23 L672.70,772.98 L673.20,772.49 L673.70,771.32 L674.20,770.85 L674.70,771.08 L675.20,771.25 L675.70,771.11 L676.20,769.72 L676.80,762.00 L677.00,756.00" fill="none" stroke="#00b0f0" stroke-width="2.4" stroke-linejoin="round" clip-path="url(#clipE)"/>
<line x1="677.50" y1="566.50" x2="677.50" y2="791.30" stroke="#777" stroke-width="1"/>
<line x1="537.76" y1="617.50" x2="548.54" y2="617.50" stroke="#111" stroke-width="1.4"/>
<path d="M534.40,617.50 L538.60,614.60 L538.60,620.40 Z" fill="#111"/>
<path d="M551.90,617.50 L547.70,614.60 L547.70,620.40 Z" fill="#111"/>
<line x1="557.46" y1="617.50" x2="568.44" y2="617.50" stroke="#111" stroke-width="1.4"/>
<path d="M554.10,617.50 L558.30,614.60 L558.30,620.40 Z" fill="#111"/>
<path d="M571.80,617.50 L567.60,614.60 L567.60,620.40 Z" fill="#111"/>
<line x1="533.16" y1="729.90" x2="551.24" y2="729.90" stroke="#111" stroke-width="1.4"/>
<path d="M529.80,729.90 L534.00,727.00 L534.00,732.80 Z" fill="#111"/>
<path d="M554.60,729.90 L550.40,727.00 L550.40,732.80 Z" fill="#111"/>
<text transform="translate(554.40,611.00) scale(1,1.06)" font-size="6.9" text-anchor="middle" fill="#000">52.2 Hz</text>
<text transform="translate(541.30,722.80) scale(1,1.06)" font-size="8.4" text-anchor="middle" fill="#000">73.1 Hz</text>
<text transform="translate(432.00,639.40) scale(1,1.06)" font-size="11.2" text-anchor="start" fill="#000"><tspan font-size="7.8" dy="-4">14</tspan><tspan dy="4">N</tspan><tspan font-size="7.8" dy="2.5">2</tspan></text>
<text transform="translate(433.50,746.20) scale(1,1.06)" font-size="11.2" text-anchor="start" fill="#000"><tspan font-size="7.8" dy="-4">15</tspan><tspan dy="4">N</tspan><tspan font-size="7.8" dy="2.5">2</tspan></text>
<text transform="translate(613.30,712.70) scale(1,1.06)" font-size="9.3" text-anchor="start" fill="#000">Maleic Acid</text>
<text transform="translate(613.30,724.00) scale(1,1.06)" font-size="9.3" text-anchor="start" fill="#000">Internal</text>
<text transform="translate(613.30,734.90) scale(1,1.06)" font-size="9.3" text-anchor="start" fill="#000">Standard</text>
</svg></body></html>
